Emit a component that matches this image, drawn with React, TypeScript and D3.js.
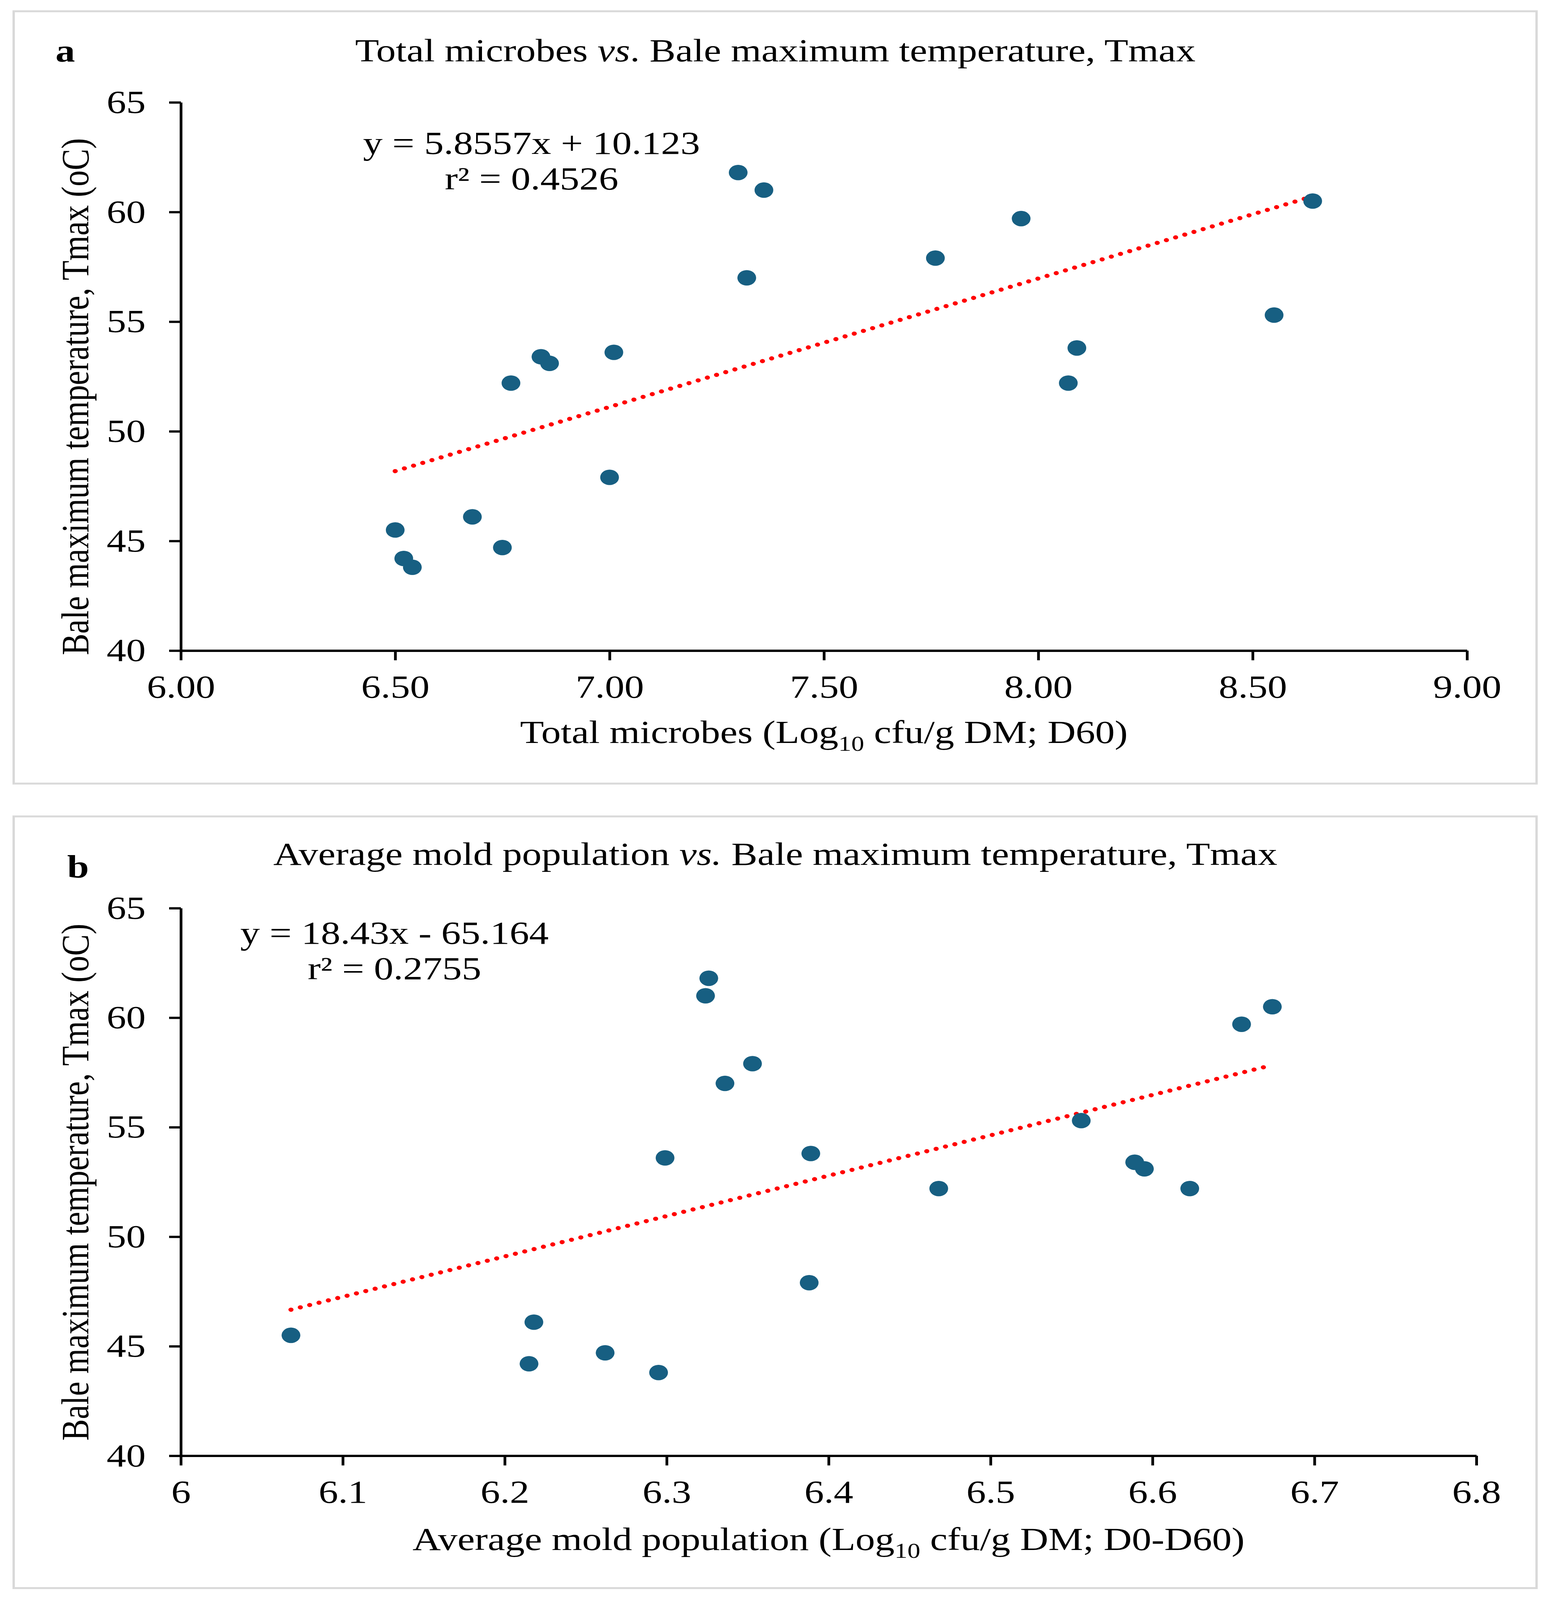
import * as d3 from 'd3';
import React, { useEffect, useRef } from 'react';

// bale max temperature (oC), one entry per bale
const tmax = [45.5, 44.2, 43.8, 46.1, 44.7, 52.2, 53.4, 53.1, 47.9, 53.6, 61.8, 61.0, 57.0, 57.9, 59.7, 52.2, 53.8, 55.3, 60.5];
// total microbes, Log10 cfu/g DM at D60
const totalMicrobes = [6.5, 6.52, 6.54, 6.68, 6.75, 6.77, 6.84, 6.86, 7.0, 7.01, 7.3, 7.36, 7.32, 7.76, 7.96, 8.07, 8.09, 8.55, 8.64];
// average mold population, Log10 cfu/g DM D0-D60
const moldAvg = [6.068, 6.215, 6.295, 6.218, 6.262, 6.468, 6.589, 6.595, 6.388, 6.299, 6.326, 6.324, 6.336, 6.353, 6.655, 6.623, 6.389, 6.556, 6.674];

const yTicks = [40, 45, 50, 55, 60, 65];
const xTicksA = [6, 6.5, 7, 7.5, 8, 8.5, 9];
const xTicksB = [6, 6.1, 6.2, 6.3, 6.4, 6.5, 6.6, 6.7, 6.8];

const fitA = { slope: 5.8557, intercept: 10.123 };
const fitB = { slope: 18.43, intercept: -65.164 };
const eqA = ['y = 5.8557x + 10.123', 'r\u00b2 = 0.4526'];
const eqB = ['y = 18.43x - 65.164', 'r\u00b2 = 0.2755'];

const FONT = '"Liberation Serif", "Times New Roman", serif';
const DOT = '#175f82';
const W = 3971;
const H = 4970;

type PanelProps = {
  xs: number[];
  ys: number[];
  xDomain: [number, number];
  xTicks: number[];
  xFormat: (v: number) => string;
  fit: { slope: number; intercept: number };
  eq: string[];
  letter: string;
  letterX: number;
  letterY: number;
  title: [string, string, string];
  xLabel: [string, string];
  box: [number, number];
  left: number;
  right: number;
  top: number;
  bottom: number;
  eqX: number;
  eqY: number;
  yLabelY: number;
  xLabelY: number;
  titleY: number;
};

const Panel = (p: PanelProps) => {
  const xRef = useRef<SVGGElement>(null);
  const yRef = useRef<SVGGElement>(null);

  const x = d3.scaleLinear().domain(p.xDomain).range([p.left, p.right]);
  const y = d3.scaleLinear().domain([40, 65]).range([p.bottom, p.top]);

  useEffect(() => {
    const xa = d3
      .axisBottom(x)
      .tickValues(p.xTicks)
      .tickFormat((d) => p.xFormat(d as number))
      .tickSize(30)
      .tickSizeOuter(0)
      .tickPadding(45);
    const ya = d3.axisLeft(y).tickValues(yTicks).tickSize(30).tickSizeOuter(0).tickPadding(60);
    const draw = (el: SVGGElement | null, ax: any) => {
      const g = d3.select(el);
      g.call(ax);
      g.attr('font-family', FONT).attr('font-size', 100);
      g.selectAll('path,line').attr('stroke', '#000').attr('stroke-width', 7);
      g.selectAll('text').attr('fill', '#000');
    };
    draw(xRef.current, xa);
    draw(yRef.current, ya);
  }, []);

  const [x0, x1] = d3.extent(p.xs) as [number, number];
  const trend = d3.line<number>()
    .x((v) => x(v))
    .y((v) => y(p.fit.slope * v + p.fit.intercept))([x0, x1]);

  const midX = (p.left + p.right) / 2;

  return (
    <g>
      <rect x={35} y={p.box[0]} width={3934 - 35} height={p.box[1] - p.box[0]} fill="#fff" stroke="#d9d9d9" strokeWidth={6} />
      <text x={p.letterX} y={p.letterY} fontFamily={FONT} fontSize={100} fontWeight="bold">{p.letter}</text>
      <text x={1985} y={p.titleY} fontFamily={FONT} fontSize={100} textAnchor="middle">
        {p.title[0]}
        <tspan fontStyle="italic">{p.title[1]}</tspan>
        {p.title[2]}
      </text>
      <g ref={xRef} transform={`translate(0,${p.bottom})`} />
      <g ref={yRef} transform={`translate(${p.left},0)`} />
      <path d={trend ?? ''} stroke="#ff0000" strokeWidth={13} strokeLinecap="round" strokeDasharray="0.01 25" fill="none" />
      {p.xs.map((v, i) => (
        <circle key={i} cx={x(v)} cy={y(p.ys[i])} r={24} fill={DOT} />
      ))}
      {p.eq.map((s, i) => (
        <text key={s} x={p.eqX} y={p.eqY + i * 110} fontFamily={FONT} fontSize={100} textAnchor="middle">{s}</text>
      ))}
      <text
        transform={`translate(226,${p.yLabelY}) rotate(-90)`}
        fontFamily={FONT}
        fontSize={100}
        textAnchor="middle"
      >
        Bale maximum temperature, Tmax (oC)
      </text>
      <text x={midX} y={p.xLabelY} fontFamily={FONT} fontSize={100} textAnchor="middle">
        {p.xLabel[0]}
        <tspan fontSize={66} dy={24}>10</tspan>
        <tspan dy={-24}>{p.xLabel[1]}</tspan>
      </text>
    </g>
  );
};

const App = () => {
  // the visible page can be shorter than the figure, so the whole figure is fitted into it
  const vw = typeof window !== 'undefined' ? window.innerWidth || W : W;
  const vh = typeof window !== 'undefined' ? window.innerHeight || H : H;
  return (
    <svg
      width={vw}
      height={vh}
      viewBox={`0 0 ${W} ${H}`}
      preserveAspectRatio="none"
      style={{ position: 'absolute', left: 0, top: 0, background: '#fff', display: 'block' }}
    >
      <Panel
        xs={totalMicrobes}
        ys={tmax}
        xDomain={[6, 9]}
        xTicks={xTicksA}
        xFormat={(v) => v.toFixed(2)}
        fit={fitA}
        eq={eqA}
        letter="a"
        letterX={142}
        letterY={192}
        title={['Total microbes ', 'vs', '. Bale maximum temperature, Tmax']}
        xLabel={['Total microbes (Log', ' cfu/g DM; D60)']}
        box={[35, 2434]}
        left={463}
        right={3756}
        top={318}
        bottom={2021}
        eqX={1361}
        eqY={478}
        yLabelY={1232}
        xLabelY={2308}
        titleY={190}
      />
      <Panel
        xs={moldAvg}
        ys={tmax}
        xDomain={[6, 6.8]}
        xTicks={xTicksB}
        xFormat={(v) => d3.format('')(v)}
        fit={fitB}
        eq={eqB}
        letter="b"
        letterX={172}
        letterY={2725}
        title={['Average mold population ', 'vs.', ' Bale maximum temperature, Tmax']}
        xLabel={['Average mold population (Log', ' cfu/g DM; D0-D60)']}
        box={[2536, 4933]}
        left={463}
        right={3780}
        top={2821}
        bottom={4522}
        eqX={1010}
        eqY={2932}
        yLabelY={3672}
        xLabelY={4815}
        titleY={2686}
      />
    </svg>
  );
};

export default App;
